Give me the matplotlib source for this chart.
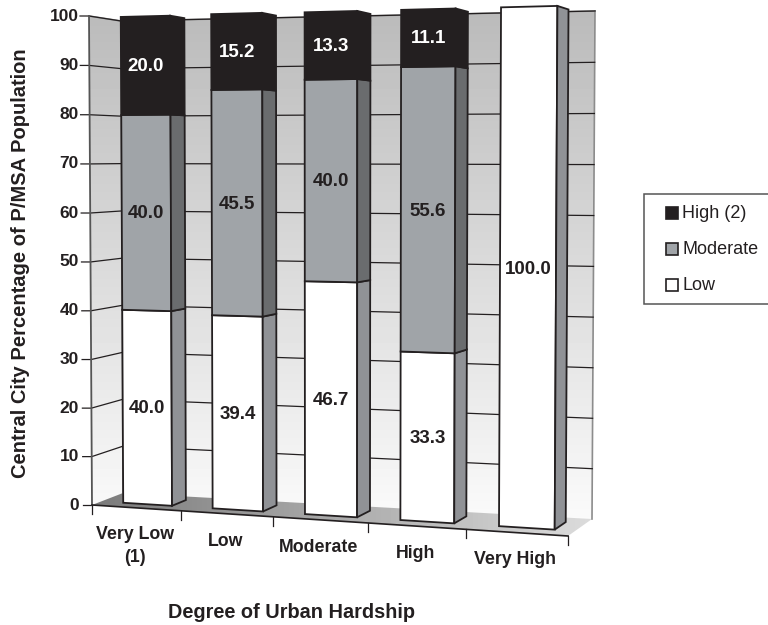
import numpy as np
import matplotlib
matplotlib.use("Agg")
import matplotlib.pyplot as plt
from matplotlib.patches import Polygon, Rectangle

plt.rcParams['font.family'] = ['Liberation Sans', 'DejaVu Sans']

categories = ['Very Low\n(1)', 'Low', 'Moderate', 'High', 'Very High']
low = [40.0, 39.4, 46.7, 33.3, 100.0]
moderate = [40.0, 45.5, 40.0, 55.6, 0.0]
high = [20.0, 15.2, 13.3, 11.1, 0.0]
y_ticks = [0, 10, 20, 30, 40, 50, 60, 70, 80, 90, 100]
legend_names = ['High (2)', 'Moderate', 'Low']

INK = '#231f20'
series = [(low, 'white', '#909296', INK),
          (moderate, '#a0a4a8', '#6a6c6e', INK),
          (high, INK, INK, 'white')]


# the chart is a fake 3d one, so map (category, value) onto two pixel planes
def homography(corners):
    src = [(0, 0), (5, 0), (5, 100), (0, 100)]
    rows, rhs = [], []
    for (u, v), (x, y) in zip(src, corners):
        rows.append([u, v, 1, 0, 0, 0, -u * x, -v * x])
        rows.append([0, 0, 0, u, v, 1, -u * y, -v * y])
        rhs += [x, y]
    return np.append(np.linalg.solve(np.array(rows, float), np.array(rhs, float)), 1).reshape(3, 3)


H_FRONT = homography([(92, 505), (568, 536), (571, 3), (89, 16)])
H_BACK = homography([(123, 493), (592, 519), (595, 11), (121, 21)])


def proj(u, v, w=0.0):
    p = np.array([u, v, 1.0])
    a = H_FRONT @ p
    b = H_BACK @ p
    return (1 - w) * a[:2] / a[2] + w * b[:2] / b[2]


fig = plt.figure(figsize=(7.68, 6.25), dpi=100)
ax = fig.add_axes([0, 0, 1, 1])
ax.set_xlim(0, 768)
ax.set_ylim(625, 0)
ax.axis('off')


def gradient(poly, img, extent):
    im = ax.imshow(img, extent=extent, cmap='gray', vmin=0, vmax=1, aspect='auto', zorder=1,
                   interpolation='bilinear')
    patch = Polygon(poly, closed=True, transform=ax.transData, fc='none', ec='none')
    ax.add_patch(patch)
    im.set_clip_path(patch)


vgrad = np.linspace(0.73, 0.985, 64).reshape(-1, 1)
back = [proj(0, 0, 1), proj(5, 0, 1), proj(5, 100, 1), proj(0, 100, 1)]
left = [proj(0, 0, 0), proj(0, 0, 1), proj(0, 100, 1), proj(0, 100, 0)]
floor = [proj(0, 0, 0), proj(5, 0, 0), proj(5, 0, 1), proj(0, 0, 1)]
gradient(back, vgrad, (80, 600, 530, 5))
gradient(left, vgrad, (80, 600, 530, 5))
hgrad = np.linspace(0.48, 0.86, 64).reshape(1, -1)
gradient(floor, hgrad, (90, 595, 540, 490))

# wall outlines stop at the floor, it has no hard back edge
for a, b in [(back[1], back[2]), (back[2], back[3]), (left[2], left[3]), (left[2], left[1])]:
    ax.plot([a[0], b[0]], [a[1], b[1]], color='#8c8c8c', lw=1.2, zorder=2)

for t in y_ticks:
    a, b, c = proj(0, t, 0), proj(0, t, 1), proj(5, t, 1)
    if t == 0:
        ax.plot([a[0] - 9, a[0]], [a[1], a[1]], color=INK, lw=0.9, zorder=2)
    else:
        ax.plot([a[0] - 9, a[0], b[0], c[0]], [a[1], a[1], b[1], c[1]], color=INK, lw=0.9, zorder=2)
    ax.text(79, a[1], str(t), ha='right', va='center', fontsize=12.5, fontweight='bold', color=INK)

p0, p1 = proj(0, 0, 0), proj(0, 100, 0)
ax.plot([p0[0], p1[0]], [p0[1], p1[1]], color='#555555', lw=1.3, zorder=2)
p1 = proj(5, 0, 0)
ax.plot([p0[0], p1[0]], [p0[1], p1[1]], color=INK, lw=1.2, zorder=2)
for u in range(6):
    p = proj(u, 0, 0)
    ax.plot([p[0], p[0]], [p[1], p[1] + 9], color=INK, lw=0.9, zorder=2)

# bars
U0, U1 = 0.25, 0.80
W0, W1 = 0.30, 0.75
for i in range(len(categories)):
    base = 0.0
    for vals, face, side, txt in series:
        val = vals[i]
        if val == 0:
            continue
        top = base + val
        u0, u1 = i + U0, i + U1
        ax.add_patch(Polygon([proj(u0, base, W0), proj(u1, base, W0), proj(u1, top, W0), proj(u0, top, W0)],
                             closed=True, fc=face, ec=INK, lw=1.3, joinstyle='miter', zorder=3))
        ax.add_patch(Polygon([proj(u1, base, W0), proj(u1, base, W1), proj(u1, top, W1), proj(u1, top, W0)],
                             closed=True, fc=side, ec=INK, lw=1.3, joinstyle='miter', zorder=3))
        c = proj((u0 + u1) / 2, base + val / 2, W0)
        ax.text(c[0], c[1] + 1, '%.1f' % val, ha='center', va='center', fontsize=13.5,
                fontweight='bold', color=txt, zorder=4)
        base = top

# axis text
label_pos = [(135, 546), (226, 541), (319, 547), (416, 554), (515, 560)]
for name, (x, y) in zip(categories, label_pos):
    ax.text(x, y, name, ha='center', va='center', fontsize=12.8, fontweight='bold', color=INK,
            linespacing=1.45)
ax.text(292, 612, 'Degree of Urban Hardship', ha='center', va='center', fontsize=14.3,
        fontweight='bold', color=INK)
ax.text(21, 263, 'Central City Percentage of P/MSA Population', rotation=90, ha='center', va='center',
        fontsize=14.5, fontweight='bold', color=INK)

# legend
ax.add_patch(Rectangle((643.5, 193.5), 130, 110, fc='white', ec='#555555', lw=1.1, zorder=2))
swatches = [INK, '#a0a4a8', 'white']
for name, col, y in zip(legend_names, swatches, [213, 249, 285]):
    ax.add_patch(Rectangle((665.5, y - 6), 12, 12, fc=col, ec=INK, lw=1.2, zorder=3))
    ax.text(682, y, name, ha='left', va='center', fontsize=13, color=INK, zorder=3)

ax.set_xlim(0, 768)
ax.set_ylim(625, 0)
fig.savefig('out.png', dpi=100)
